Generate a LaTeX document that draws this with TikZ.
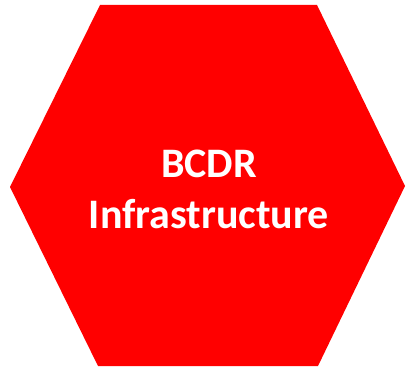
\documentclass[tikz,border=0pt]{standalone}
\usepackage{fontspec}
\setmainfont{Carlito}
\usepackage{tikz}

\begin{document}
\begin{tikzpicture}[x=1pt,y=1pt,
    hexfill/.style={fill=red,draw=none},
    hexlabel/.style={text=white,font=\fontsize{42}{51}\selectfont\bfseries,align=center}]
  \useasboundingbox (0,0) rectangle (406,366);
  \fill[hexfill] (100,361) -- (317,361) -- (405,180) -- (318,0)
    -- (98,0) -- (10,179) -- cycle;
  \node[hexlabel] (title) at (209,177) {BCDR\\Infrastructure};
\end{tikzpicture}
\end{document}
